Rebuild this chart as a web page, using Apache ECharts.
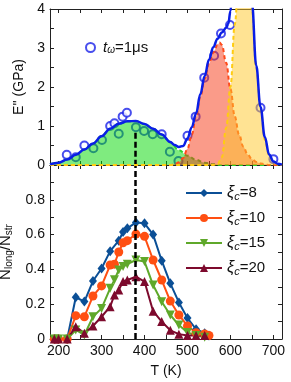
<!DOCTYPE html>
<html><head><meta charset="utf-8">
<script src="https://cdn.jsdelivr.net/npm/echarts@6/dist/echarts.min.js"></script>
<style>html,body{margin:0;padding:0;background:#fff}#c{width:291px;height:382px}</style>
</head><body><div id="c"></div>
<script>
// ---------- top panel data (E'' in GPa vs T in K) ----------
const tFit = [180,200,220,240,260,280,300,320,340,360,380,400,420,440,460,470,480,490,500,510,520,530,540,550,560,570,580,590,595,600,605,610,620,630,640,650,660,670,680,690,700,710,720];
const eFit = [0.02,0.06,0.14,0.26,0.40,0.55,0.74,0.93,1.06,1.12,1.13,1.05,0.93,0.78,0.59,0.51,0.46,0.49,0.68,0.97,1.32,1.82,2.28,2.70,3.02,3.24,3.40,3.52,3.62,3.95,4.5,5.1,5.9,6.0,5.3,4.15,2.55,1.49,0.72,0.27,0.09,0.03,0.01];
const tGreen = [180,200,220,240,260,280,300,320,340,360,380,400,420,440,460,480,500,520,540,560,580,720];
const eGreen = [0.02,0.06,0.14,0.26,0.40,0.55,0.74,0.93,1.06,1.12,1.13,1.05,0.93,0.78,0.58,0.38,0.24,0.13,0.06,0.02,0,0];
const tRed = [180,460,470,480,490,500,510,520,530,540,550,560,570,575,580,590,600,610,620,630,640,650,660,670,680,690,720];
const eRed = [0,0,0.02,0.07,0.18,0.42,0.78,1.25,1.75,2.2,2.6,2.88,3.08,3.14,3.08,2.62,1.95,1.25,0.78,0.47,0.27,0.15,0.08,0.04,0.02,0,0];
const tYellow = [180,560,570,580,590,600,610,620,630,640,650,660,670,680,690,700,710,720];
const eYellow = [0,0,0.03,0.2,0.95,2.0,3.6,5.0,5.6,5.1,4.0,2.5,1.45,0.65,0.25,0.08,0.02,0];
const tCirc = [219,240,260,281,301,320,330,340,349,359,380,399,419,440,459,479,500,519,539,562,578,599,670,700];
const eCirc = [0.26,0.20,0.50,0.43,0.64,1.00,1.07,0.80,1.24,1.34,0.97,0.87,0.79,0.79,0.34,0.10,0.75,1.24,2.24,2.80,3.37,3.59,1.47,0.15];

// ---------- bottom panel data (N_long/N_str vs T) ----------
const t8  = [190,200,220,240,260,280,300,320,340,350,360,380,400,420,440,460,480,500,520,540,550];
const n8  = [0,0,0,0.24,0.215,0.333,0.405,0.505,0.565,0.615,0.636,0.67,0.665,0.60,0.45,0.32,0.21,0.12,0.056,0.033,0.02];
const t10 = [190,200,220,240,260,280,300,320,330,340,350,360,380,400,420,440,460,480,500,520,540,550];
const n10 = [0,0,0,0.134,0.128,0.247,0.305,0.425,0.43,0.50,0.553,0.565,0.603,0.59,0.454,0.339,0.218,0.138,0.075,0.036,0.029,0.02];
const t15 = [190,200,220,240,260,280,300,320,330,340,350,360,380,400,420,440,460,480,500,520,540];
const n15 = [0,0,0,0.052,0.023,0.128,0.176,0.291,0.34,0.397,0.416,0.43,0.454,0.445,0.31,0.214,0.138,0.08,0.038,0.02,0.01];
const t20 = [190,200,220,240,260,280,300,320,330,340,350,360,380,400,420,440,460,480,500,520,540];
const n20 = [0,0,0,0.071,0.033,0.075,0.128,0.186,0.253,0.282,0.33,0.339,0.358,0.33,0.16,0.10,0.05,0.028,0.02,0.02,0.02];

// ---------- ticks / labels ----------
const xTicks = [200,250,300,350,400,450,500,550,600,650,700];
const xLabels = [200,300,400,500,600,700];
const yTopTicks = [0,0.5,1,1.5,2,2.5,3,3.5,4];
const yTopLabels = [0,1,2,3,4];
const yBotTicks = [0,0.1,0.2,0.3,0.4,0.5,0.6,0.7,0.8,0.9,1.0];
const yBotLabels = [0,0.2,0.4,0.6,0.8];
const tDash = 378, dashTopE = 0.83;

const zip = (a, b) => a.map((v, i) => [v, b[i]]);
const FONT = 'Liberation Sans';
const AX = '#222';

function xAx(grid, pos, showLabel, extra) {
  return Object.assign({
    type: 'value', gridIndex: grid, position: pos, min: 180, max: 720,
    axisLine: {show: true, onZero: false, lineStyle: {color: AX, width: 1}},
    axisTick: {show: true, inside: true, length: 4, customValues: xTicks, lineStyle: {color: AX}},
    axisLabel: {show: showLabel, customValues: xLabels, margin: 5, fontSize: 14, color: '#111', fontFamily: FONT},
    splitLine: {show: false}
  }, extra || {});
}
function yAx(grid, pos, min, max, ticks, labels, showLabel, extra) {
  return Object.assign({
    type: 'value', gridIndex: grid, position: pos, min: min, max: max,
    axisLine: {show: true, onZero: false, lineStyle: {color: AX, width: 1}},
    axisTick: {show: true, inside: true, length: 4, customValues: ticks, lineStyle: {color: AX}},
    axisLabel: {show: showLabel, customValues: labels, margin: 5, fontSize: 14, color: '#111', fontFamily: FONT},
    splitLine: {show: false}
  }, extra || {});
}

const chart = echarts.init(document.getElementById('c'), null, {renderer: 'canvas'});
const dashML = (y0, y1) => ({
  silent: true, symbol: ['none', 'none'], label: {show: false}, animation: false,
  lineStyle: {color: '#000', width: 2.5, type: [6, 3]},
  data: [[{coord: [tDash, y0]}, {coord: [tDash, y1]}]]
});
const comp = (name, t, e, lineColor, fill, z) => ({
  name: name, type: 'line', xAxisIndex: 0, yAxisIndex: 0, data: zip(t, e),
  smooth: 0.4, smoothMonotone: 'x', showSymbol: false, symbol: 'none', z: z,
  lineStyle: {color: lineColor, width: 2, type: [4, 3]},
  areaStyle: {color: fill, opacity: 1}
});
const bot = (name, t, n, color, symbol, size, rot) => ({
  name: name, type: 'line', xAxisIndex: 2, yAxisIndex: 2, data: zip(t, n),
  symbol: symbol, symbolSize: size, symbolRotate: rot || 0, showAllSymbol: true,
  lineStyle: {color: color, width: 2}, itemStyle: {color: color}
});

const xiFmt = (name) => {
  const v = name.split('=')[1];
  return '{xi|ξ}{sub|c}{n|=' + v + '}';
};

chart.setOption({
  animation: false,
  grid: [
    {left: 50, right: 9, top: 9, height: 156, containLabel: false, outerBoundsMode: 'none'},
    {left: 50, right: 9, top: 165, height: 174, containLabel: false, outerBoundsMode: 'none'}
  ],
  xAxis: [
    xAx(0, 'bottom', false),
    xAx(0, 'top', false),
    xAx(1, 'bottom', true, {name: 'T (K)', nameLocation: 'middle', nameGap: 25,
      nameTextStyle: {fontSize: 14, color: '#111', fontFamily: FONT}}),
    xAx(1, 'top', false)
  ],
  yAxis: [
    yAx(0, 'left', 0, 4, yTopTicks, yTopLabels, true, {name: "E'' (GPa)", nameLocation: 'middle', nameGap: 20,
      nameTextStyle: {fontSize: 14, color: '#111', fontFamily: FONT}}),
    yAx(0, 'right', 0, 4, yTopTicks, yTopLabels, false),
    yAx(1, 'left', 0, 1, yBotTicks, yBotLabels, true, {name: '{m|N}{s|long}{m|/N}{s|str}', nameLocation: 'middle', nameGap: 24,
      nameTextStyle: {fontSize: 14, color: '#111', fontFamily: FONT,
        rich: {m: {fontSize: 15, fontFamily: FONT, color: '#111'},
               s: {fontSize: 10, fontFamily: FONT, color: '#111', padding: [7, 0, 0, 0]}}}}),
    yAx(1, 'right', 0, 1, yBotTicks, yBotLabels, false)
  ],
  legend: [
    {data: ['tw'], left: 80, top: 35, itemWidth: 9, itemHeight: 9,
      formatter: () => '{t|t}{sub|ω}{n|=1μs}',
      textStyle: {fontFamily: FONT, color: '#111', padding: [0, 0, 0, 3], rich: {
        t: {fontSize: 15, fontStyle: 'italic', fontFamily: FONT},
        sub: {fontSize: 10, fontStyle: 'italic', fontFamily: FONT, padding: [6, 0, 0, 0]},
        n: {fontSize: 15, fontFamily: FONT}}}},
    {data: ['ξc=8', 'ξc=10', 'ξc=15', 'ξc=20'], orient: 'vertical', left: 180, top: 180,
      itemWidth: 36, itemHeight: 10, itemGap: 8, formatter: xiFmt,
      textStyle: {fontFamily: FONT, color: '#111', rich: {
        xi: {fontSize: 16, fontStyle: 'italic', fontFamily: FONT},
        sub: {fontSize: 11, fontStyle: 'italic', fontFamily: FONT, padding: [7, 0, 0, 0]},
        n: {fontSize: 15, fontFamily: FONT}}}}
  ],
  series: [
    {name: 'tw', type: 'scatter', xAxisIndex: 0, yAxisIndex: 0, data: zip(tCirc, eCirc),
      symbol: 'emptyCircle', symbolSize: 8, z: 2,
      itemStyle: {color: '#1a22e8', borderWidth: 2}},
    comp('green', tGreen, eGreen, '#2ed12e', 'rgba(0,215,0,0.5)', 3),
    comp('red', tRed, eRed, '#ff4a1a', 'rgba(245,55,20,0.5)', 4),
    comp('yellow', tYellow, eYellow, '#ffcc11', 'rgba(255,200,40,0.5)', 5),
    {name: 'fit', type: 'line', xAxisIndex: 0, yAxisIndex: 0, data: zip(tFit, eFit),
      smooth: 0.4, smoothMonotone: 'x', showSymbol: false, symbol: 'none', z: 6,
      lineStyle: {color: '#0a1ee6', width: 2.5},
      markLine: dashML(dashTopE, 0)},
    bot('ξc=8', t8, n8, '#0b4f96', 'diamond', [8, 10]),
    bot('ξc=10', t10, n10, '#ff4f12', 'circle', 9),
    bot('ξc=15', t15, n15, '#5fa82a', 'triangle', 9, 180),
    Object.assign(bot('ξc=20', t20, n20, '#7d0a2d', 'triangle', 9), {markLine: dashML(0, 1)})
  ]
});
</script></body></html>
